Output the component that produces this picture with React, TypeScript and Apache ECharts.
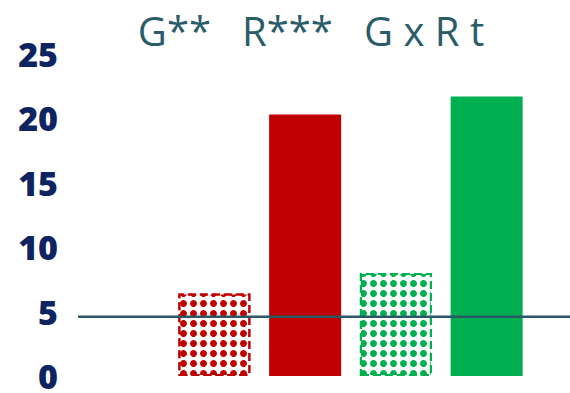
import React, { useEffect, useRef } from "react";
import * as echarts from "echarts";

const categories = ["A", "B", "C", "D"];
const values = [6.4, 20.3, 8.0, 21.7];
const barColors = ["#c00000", "#c00000", "#00b050", "#00b050"];
const patterned = [true, false, true, false];
const refValue = 4.6;
const yTicks = [0, 5, 10, 15, 20, 25];
const titleText = "G**   R***   G x R t";

export default function App() {
  const ref = useRef<HTMLDivElement>(null);
  useEffect(() => {
    const chart = echarts.init(ref.current!, null, { renderer: "svg" });
    const top = 54;
    const bottom = 17;
    chart.setOption({
      animation: false,
      title: {
        text: titleText,
        left: 306,
        textAlign: "center",
        top: 2,
        textStyle: {
          fontFamily: "Open Sans",
          fontWeight: "normal",
          fontSize: 40,
          lineHeight: 46,
          color: "#2a5c6a",
        },
      },
      grid: [
        { left: 169, right: 38, top, bottom },
        { left: 78, right: 0, top, bottom },
      ],
      xAxis: [
        {
          type: "category",
          gridIndex: 0,
          data: categories,
          axisLine: { show: false },
          axisTick: { show: false },
          axisLabel: { show: false },
        },
        {
          type: "category",
          gridIndex: 1,
          data: ["s", "e"],
          boundaryGap: false,
          show: false,
        },
      ],
      yAxis: [
        {
          type: "value",
          gridIndex: 0,
          min: 0,
          max: 25,
          interval: 5,
          show: false,
        },
        {
          type: "value",
          gridIndex: 1,
          min: 0,
          max: 25,
          interval: 5,
          axisLine: { show: false },
          axisTick: { show: false },
          splitLine: { show: false },
          axisLabel: {
            margin: 20,
            fontFamily: "Open Sans",
            fontWeight: 800,
            fontSize: 34,
            lineHeight: 30,
            color: "#0d2461",
            formatter: (v: number) => (yTicks.includes(v) ? String(v) : ""),
          },
        },
      ],
      series: [
        {
          type: "bar",
          xAxisIndex: 0,
          yAxisIndex: 0,
          barWidth: 72,
          data: values.map((v, i) => ({
            value: v,
            itemStyle: patterned[i]
              ? {
                  color: "#ffffff",
                  borderColor: barColors[i],
                  borderWidth: 2,
                  borderType: "dashed",
                  decal: {
                    symbol: "circle",
                    symbolSize: 1,
                    color: barColors[i],
                    dashArrayX: [7, 3],
                    dashArrayY: [7, 3],
                    rotation: 0,
                  },
                }
              : { color: barColors[i] },
          })),
        },
        {
          type: "line",
          xAxisIndex: 1,
          yAxisIndex: 1,
          data: [refValue, refValue],
          symbol: "none",
          lineStyle: { color: "#2a5866", width: 2.5 },
          z: 5,
        },
      ],
    });
    return () => chart.dispose();
  }, []);
  return (
    <div
      ref={ref}
      style={{ position: "fixed", left: 0, top: 0, width: 570, height: 393, background: "#fff" }}
    />
  );
}
